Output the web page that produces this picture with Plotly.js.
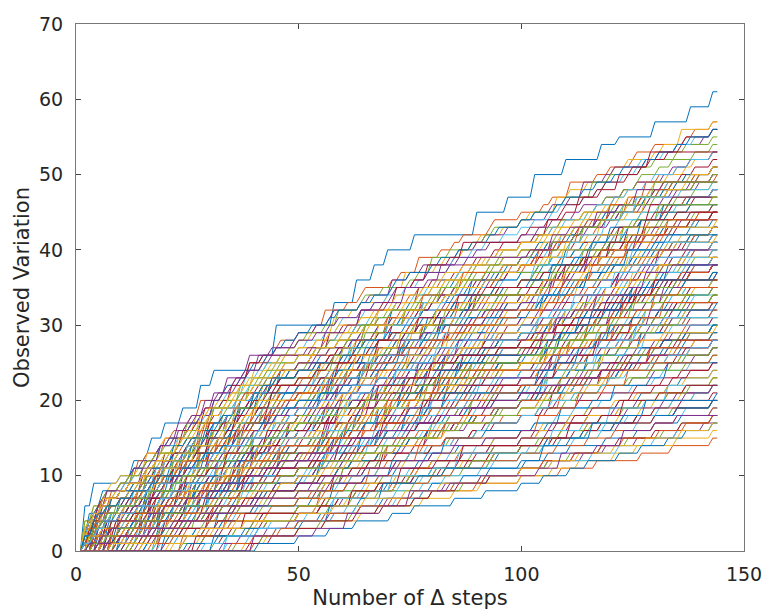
<!DOCTYPE html>
<html>
<head>
<meta charset="utf-8">
<script src="https://cdn.plot.ly/plotly-3.0.1.min.js"></script>
<style>
  html, body { margin: 0; padding: 0; background: #ffffff; }
  #chart { width: 764px; height: 610px; }
</style>
</head>
<body>
<div id="chart"></div>
<script>
// Observed variation against the number of Δ steps, one staircase per run.
// Every run starts at 0 on step 1. Each string lists the run's unit rises in
// order: a character is the number of steps waited before that rise
// (base-62 digit, so "0" stacks a rise onto the same step).
const STEP_COUNT = 144;

const topRuns = [
  "100000200630310304040030923000d00500403060e007060070804808050",
  "100201302310240231205123042144205316240532616524063514724",
  "100020301242031520324130251235042613072431542603451362407",
  "20010312120321402132041230351431625043714253614305273462",
  "1000401213024123051240321322243051462304532635260473526",
  "20011023123120421322140323424315234325143443425324315344",
  "10102104231243120324132343243153240352342424314325324316",
  "10100210421321241230213231223342534135243425352434253435",
  "10021023231242132032412323423531432543245432534235435",
  "21033132412032512314204324135240362314344235143263424",
  "10101201321231241230231232154325341435243743525436245",
  "101102421320321423123042532431432534234344235324314354",
  "11010242123124213203123215432435143253434343524342535",
  "40020105203203103204203103b40340530430530g30430540340h"
];

const upperRuns = [
  "201031231402321503241230452431604352416446235074363",
  "103023213042132051231402436240537145262253416305473",
  "100210324203152304213241334215304623514345362473526",
  "30012032413052314206232415326043517243340526341573",
  "210204132041235021432034253140632451342562451374254",
  "120031232410325123042314534062354163442430532461355",
  "1021052132413204321534342351432534233332431432532434",
  "110202324132034213240324352431642354233425341364326",
  "102332132413203421323443243153243253243425324314354",
  "10012013123124213024132231443524631543645436425464",
  "10211043213240231242132324352436143524435425364245",
  "1120523142304213523144325341362435233423514325344",
  "1103132341325231423233423514324352324435243154327",
  "414253142362134202342513624305243324315324035245",
  "201033132421304231243145243163254325543526435146",
  "210102332413253124321435243164253426432534263146",
  "101201421302142132031224133432534163245354532645365",
  "20112312321324123032142434325341435243434532543644",
  "10011021323124312304231234435243641534634524354364",
  "120213234123243124321343523415432545345234352435",
  "101020142324132304231424432543153425454535463454",
  "6001020530240320413052047504603507406a506407506a",
  "2020243023042031043024940350430620540e30450340530g",
  "70102052032041302304203294053064053064a4053064054c",
  "30001020530220310420320410d405306405306e504605406d",
  "5020105302304203204302394043054053064c30430450340h",
  "101034303204302403204a4053044053063d30440350430h",
  "7020530240330420340c40340530440530f303404304305e"
];

const midHighRuns = [
  "201303324135204325132425361430542653645273463",
  "130232403125320431244532641537243542536145364",
  "102102343152304263142325143620453264546273565",
  "213312403215324103544305246135243536352471564",
  "1104033524136240532241352043623415535426315464",
  "302132314250324315233524163405362652436415364",
  "200322314253042361424625317425344235143625435",
  "102013023214203512430235463257143654534627565",
  "632431253241342443253241352432432435234153245",
  "2043351243251342324235143623451432534136243523",
  "1404231240325132412325342635146344465374635",
  "1201323245134253143435246314536435426345245",
  "1032324313524132503245236415346343645264355",
  "3332431524362314342531462354233532436243524",
  "1134243125324132422354236143524355346352465",
  "101203234215324305233453627453653546253465",
  "201204314235214324334536245364355436245365",
  "12105234135234124334325413624354465746834",
  "81235413624352342536143524354325134253425",
  "22143425314623434235413624532634524635245",
  "12424325314263214354624534635342534153436",
  "2101513242032143213243543625435463564375463",
  "1413234215324314243524362415342643524364354",
  "10110213231232042132412323453462543644546356455",
  "12213342352431532343524364253454526435455",
  "2010213321423204312432443524354163553564253465",
  "103122325314235241325346245364264535624545",
  "117243153243143543254315342635352434153427",
  "36231432513243124342531435243524423543145345",
  "26342534253415342534623453243423541342534",
  "1001210423413523142321454364256357546345637",
  "2021431423251342314242534153426344432534253435",
  "13142314232143203424342534235143524354234523435",
  "21632413523413243534263452435443542534625",
  "111024232142312034213254354236435245546354655",
  "40301340320513042053086043072506405850630740657",
  "7002033402305140320637504306405307d40530640759",
  "303430420530420638604305604507a40530650749",
  "501063042053024035094053062054063c4053065046a",
  "5020630240320430250394035043064053d30430540350g",
  "2020143043052043053850460540630h406504605d",
  "70101233042033042053029405406305406d504605307d",
  "3030540320530420539305406305406e3064054063c",
  "703530240320430240d4035043054063d30430530450g",
  "20203340320430520430a504306405306e405605307d",
  "5730450340530494053045036043d40350430540f"
];

const midRuns = [
  "31234235134260433536247153464645372565",
  "243132405324163244526341753643546245374",
  "12033352431642532246351437254457463846",
  "10533241532436124536427453654263547255",
  "42323514326324143542631543725536472655",
  "211233421523403523364352746355463572646",
  "23044352361435223642573416545346254365",
  "2031342531463243353462543643543524634534",
  "2124435243625333524634153464243534253435",
  "153342536423534253641354265352436143525",
  "225314235241325325436245346356345254365",
  "54635247324424351462354236342531643525",
  "35342635423543542463514364432534153427",
  "21024342531425324254362547356453654637",
  "120312435263142532647352684564753756",
  "642536415346352463514634453426435245",
  "303352436423542364527436554635246355",
  "12643526435265346254736534524364255",
  "1120143241325231423234536425637564574656",
  "3424235314253443642543645355435624536",
  "63352436245334352463425345342534253435",
  "231335243254324353642546357463546537",
  "310234325342354236547356455536457436",
  "95364526454352463524354342534253426",
  "1020123342532435132357646584564575646",
  "813423514325323453246342543535424534634",
  "154364253453443562453464443524354364",
  "22014324132532413255346352465756457466",
  "31142431432532434546357456564567456",
  "301122423524135243254364526456465354646",
  "12303435246324345346345246353546345445",
  "2115453463524435463453642543452435436",
  "45346354254434253415346244342534325435",
  "70204504306205406570540830650c605407506a",
  "30446035046035085074065084b70560840d",
  "5044063075046560470560859506407308a",
  "b3506407306940650730650e30540650749",
  "30740530640530a50640730650e406507308a",
  "a530540630540a405306405306e30430540530g",
  "65046035064d405306405406d30540350430g",
  "5084035042063049504306504307d3064053065b",
  "5024503406205304840650460540g604507406b",
  "8064053064054940560450640g3054063054d",
  "122450430640530a405306404506d4053054064c",
  "6010540530540630a6054075065c50650740g",
  "350460350460e405306405405e5034064053d",
  "73550340540630a5046064074e504506406d"
];

const midLowRuns = [
  "324532463154344635724635564735846",
  "452431542634245736458264365472565",
  "1323536245364235426437525456473657",
  "252345236415346453752648453654736",
  "632354163452543562453643574563855",
  "144352431542362546352746356857467",
  "3024425362435246357452657546357436",
  "3152435143623435643752648365473564",
  "2763547254435426453724542536435245",
  "5432451342634346352475365536457364",
  "945364254734625437452553426345245",
  "53645274355463527456355342653465",
  "23453642573564753856647563747",
  "e46573a3546253743444536425464",
  "b3546254953642573465546357454",
  "183542635435475365743656475367",
  "453524632543365746835664576357",
  "513647356454653754637546354736",
  "564753658453642753653645345265",
  "85463546354653654755546354646",
  "1355346245344456357456556475646",
  "203453426345233465364754665475646",
  "c453654a35462453643543524536245",
  "2102134352436243464575465856457646",
  "12123453462534465746574654656746",
  "a45364539453645265463546245356",
  "522345234532456547564766756856",
  "36435425364453462546357456354646",
  "645364254373452643546354534635445",
  "612465345634543654265465346434545",
  "725645745454653654754354635445",
  "760740850e3065074065e405607406b",
  "i056074d4065073065e305607406c",
  "3650640750d605706408e50640750g",
  "c6075084c506408507f405604507c",
  "505504605307a60750860i5076085c",
  "84405306405675064075064d405604705c",
  "h0450640j40540650450h3045043065d",
  "6506405607c4065074056d406505406d",
  "58604506305b5046054065f4045053064c",
  "905406504h40540640540i3045043056d",
  "704350450630548605407506h40750650g"
];

const lowRuns = [
  "946352745453647526486584767",
  "5463745645465374652857463855",
  "c35462755453642754647564867",
  "753462543646574638565764876",
  "365463542653754625747867598",
  "9375465375436524735646573657",
  "3213453624534475684677968758",
  "3656473564654756386465356455",
  "d45364596457356428536475364",
  "675648675463754637463574536",
  "i4657954637546283546345265",
  "4846753665746836566758647",
  "f35647956475368665475637",
  "5445364535556475647654657466",
  "575684686576857656465746",
  "2322645356434756856766576586",
  "33346573654675685765766586",
  "h546359543652465374356245455",
  "r564754645376463544635445",
  "j07508d507608409b60750840d",
  "n0640g506507406h405406506d"
];

const lateRuns = [
  "e6857967584767786958",
  "j578a465736856697588",
  "b4675885867495697a89",
  "h4768786957875768476",
  "p3678547638566867958",
  "f5849875864965687598",
  "87685966578467746575646",
  "l685947563865654675367",
  "6375648556978578786598",
  "n574a75684767456357454",
  "x565657465836546457354",
  "7978a8675864777568467",
  "o799586747676587467",
  "g576877869578876958",
  "k4657757465376746575466",
  "4586758678679676576856",
  "u3546176576856456354655",
  "x064860850960g50760850c",
  "q0650h70650860i6075086b",
  "u07d6075086i40650750g"
];

const floorRuns = [
  "D2358697aa98a79",
  "B576859769768598",
  "w4659768598685796",
  "z68576847676576847",
  "s5798596787796858",
  "C56675846775764867",
  "E9768597856475646",
  "y56468759785765866",
  "7b9ac879899768787",
  "D0e7086097d5086075c"
];

const tickValuesX = [0, 50, 100, 150];
const tickValuesY = [0, 10, 20, 30, 40, 50, 60, 70];
const lineColors = ['#0072BD', '#D95319', '#EDB120', '#7E2F8E', '#77AC30', '#4DBEEE', '#A2142F'];

const DIGITS = '0123456789abcdefghijklmnopqrstuvwxyzABCDEFGHIJKLMNOPQRSTUVWXYZ';

const steps = [];
for (let s = 1; s <= STEP_COUNT; s++) steps.push(s);

// Turn a run's list of waits into the running count at every step.
function runValues(code) {
  const rises = new Array(STEP_COUNT + 1).fill(0);
  let pos = 1;
  for (const ch of code) {
    pos += DIGITS.indexOf(ch);
    if (pos > STEP_COUNT) break;
    rises[pos] += 1;
  }
  const values = [];
  let total = 0;
  for (let s = 1; s <= STEP_COUNT; s++) {
    total += rises[s];
    values.push(total);
  }
  return values;
}

const allRuns = [].concat(topRuns, upperRuns, midHighRuns, midRuns,
                          midLowRuns, lowRuns, lateRuns, floorRuns);

const traces = allRuns.map((code, i) => ({
  type: 'scatter',
  mode: 'lines',
  x: steps,
  y: runValues(code),
  line: { color: lineColors[i % lineColors.length], width: 1 },
  hoverinfo: 'skip',
  showlegend: false
}));

const axisFont = { family: 'DejaVu Sans, sans-serif', size: 19, color: '#262626' };
const titleFont = { family: 'DejaVu Sans, sans-serif', size: 21, color: '#262626' };

const layout = {
  width: 764,
  height: 610,
  margin: { l: 76, r: 20, t: 24, b: 59 },
  paper_bgcolor: '#ffffff',
  plot_bgcolor: '#ffffff',
  showlegend: false,
  xaxis: {
    range: [0, 150],
    tickmode: 'array',
    tickvals: tickValuesX,
    ticktext: tickValuesX.map(String),
    ticks: 'inside',
    ticklen: 5,
    tickcolor: '#444444',
    showline: true,
    linecolor: '#777777',
    linewidth: 1,
    mirror: 'allticks',
    showgrid: false,
    zeroline: false,
    tickfont: axisFont,
    ticklabelstandoff: 6,
    title: { text: 'Number of Δ steps', font: titleFont, standoff: 6 }
  },
  yaxis: {
    range: [0, 70],
    tickmode: 'array',
    tickvals: tickValuesY,
    ticktext: tickValuesY.map(String),
    ticks: 'inside',
    ticklen: 5,
    tickcolor: '#444444',
    showline: true,
    linecolor: '#777777',
    linewidth: 1,
    mirror: 'allticks',
    showgrid: false,
    zeroline: false,
    tickfont: axisFont,
    ticklabelstandoff: 8,
    title: { text: 'Observed Variation', font: titleFont, standoff: 3 }
  }
};

Plotly.newPlot('chart', traces, layout, { displayModeBar: false, staticPlot: true });
</script>
</body>
</html>
